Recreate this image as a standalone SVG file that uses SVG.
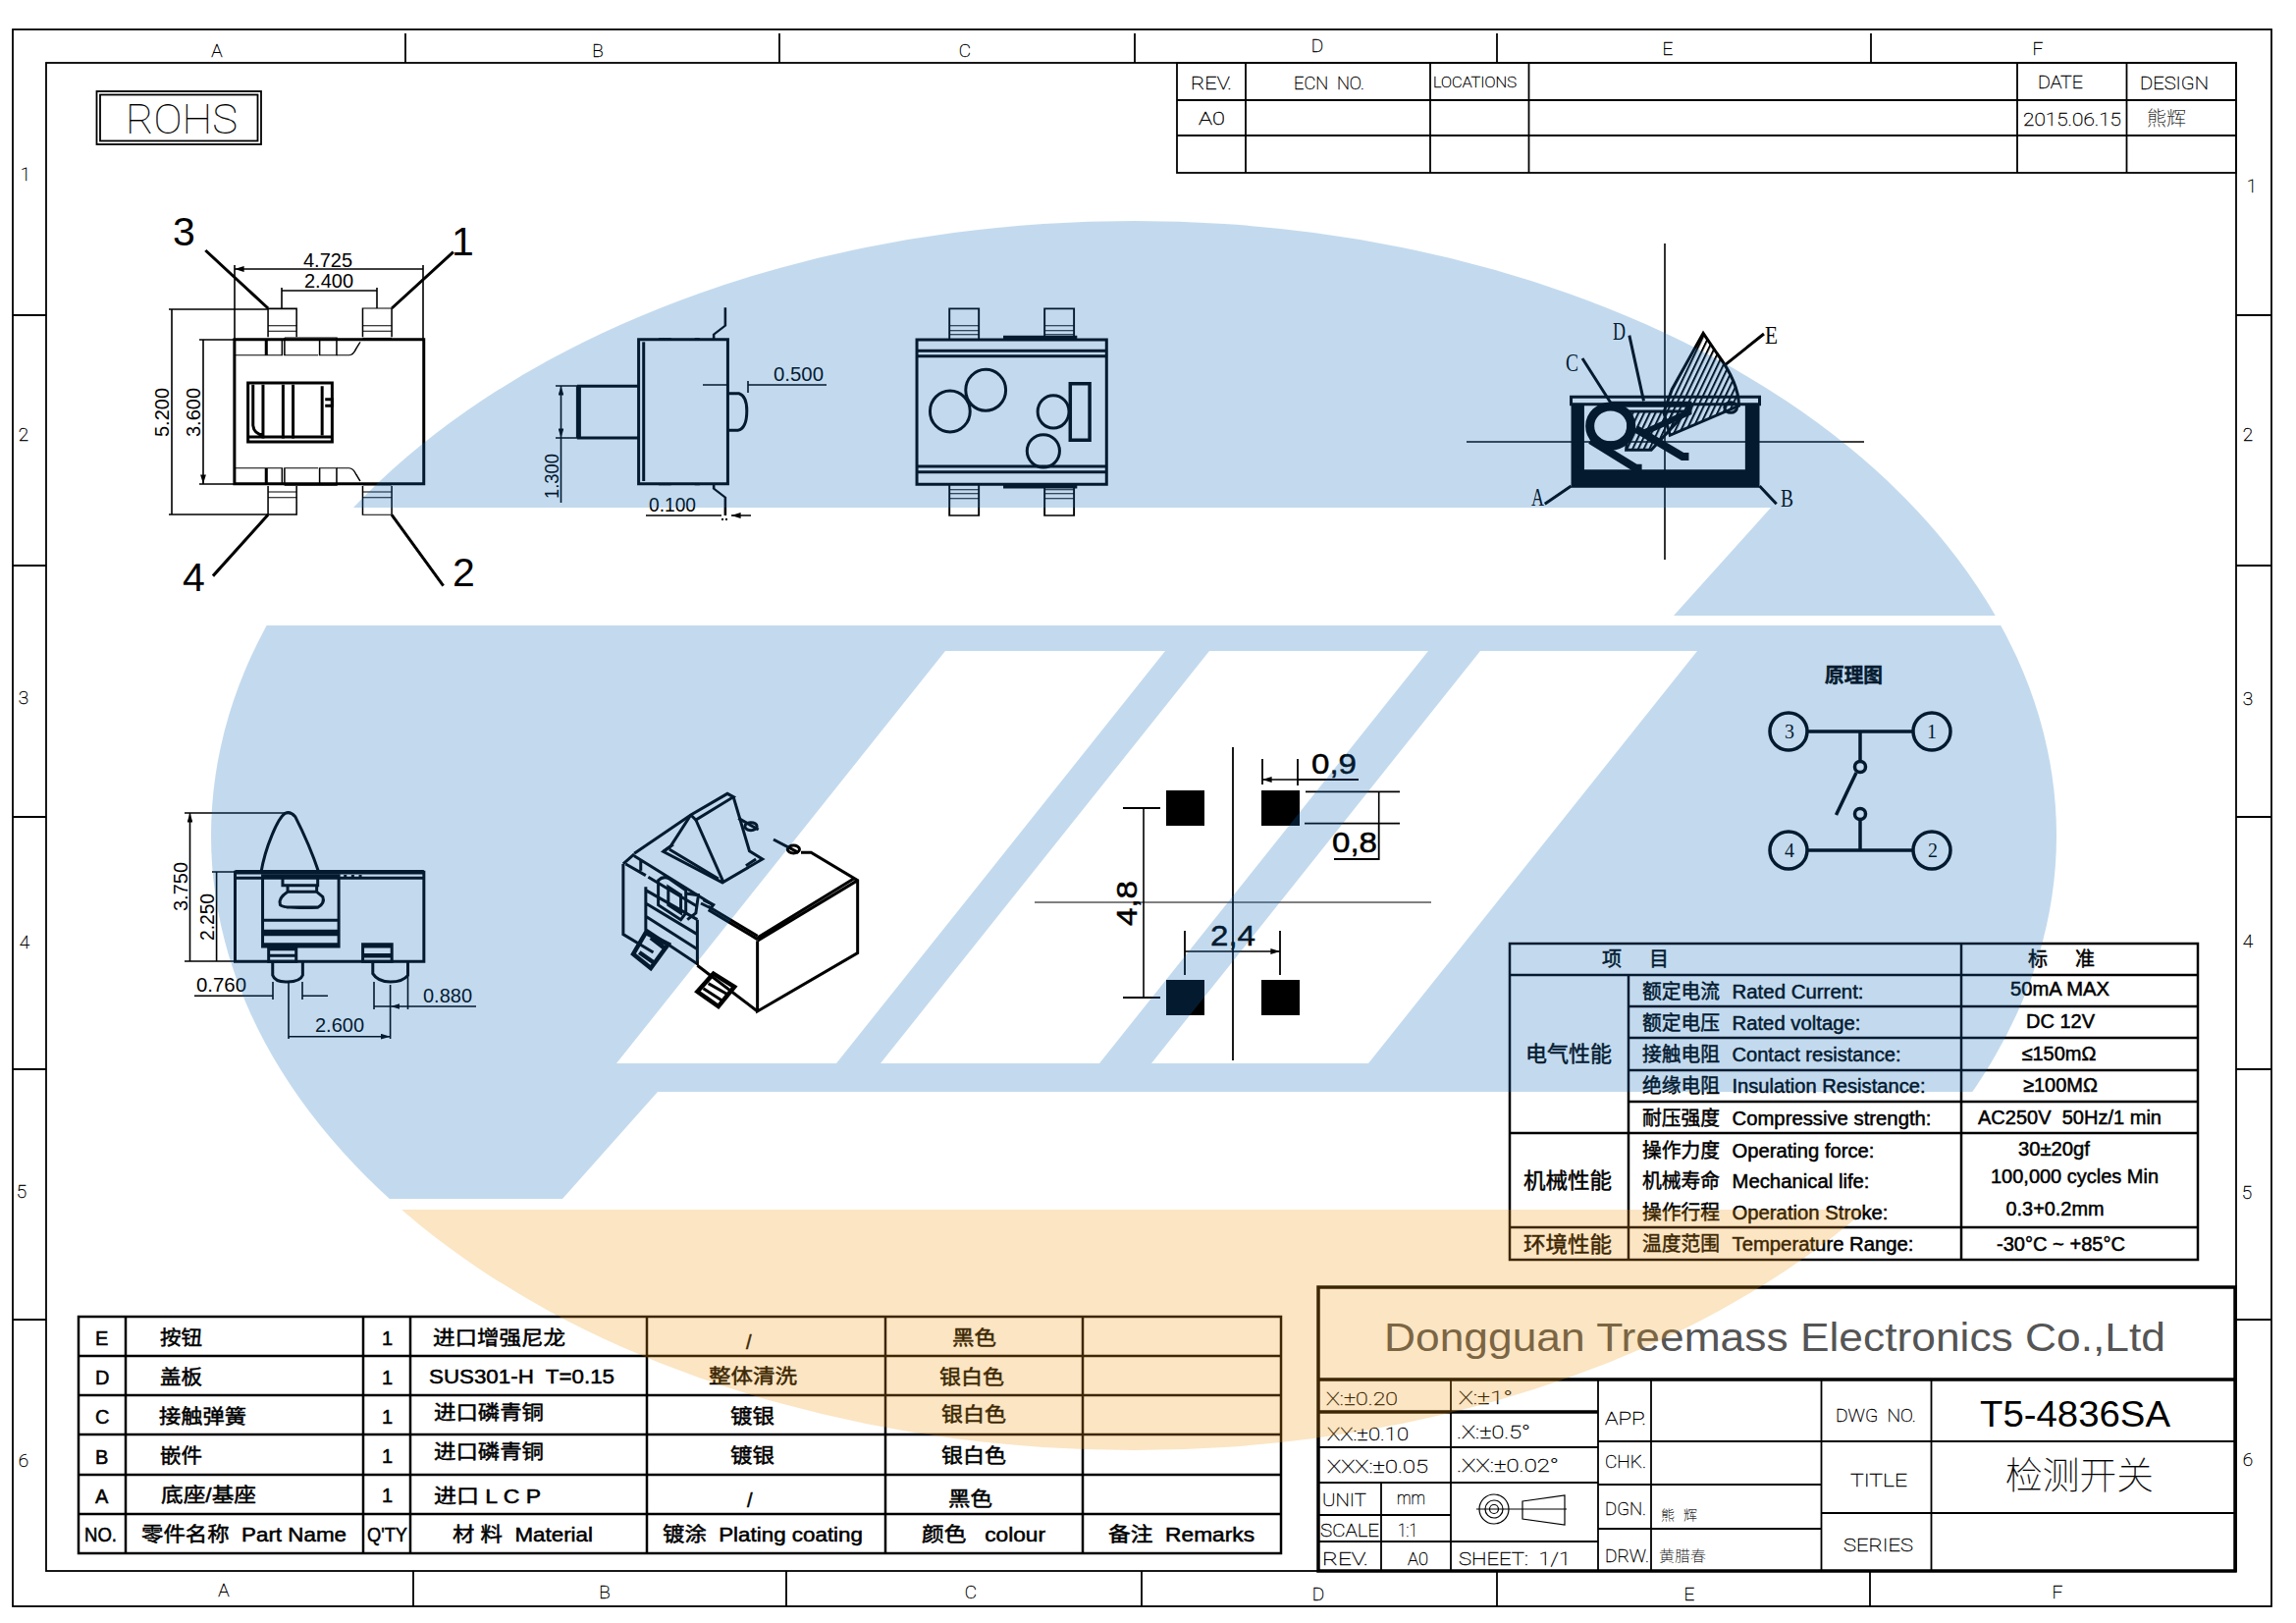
<svg xmlns="http://www.w3.org/2000/svg" width="2339" height="1653" viewBox="0 0 2339 1653">
<style>
text{white-space:pre;fill:#000}
.s{font-family:"Liberation Sans","Noto Sans CJK SC",sans-serif;stroke:#000;stroke-width:.5}
.f20{font-size:20px}
.c{font-family:"Roboto","Liberation Sans","Noto Sans CJK SC",sans-serif;font-weight:100;font-size:19px;fill:#000;stroke:#000;stroke-width:.35}
.d{font-family:"Liberation Sans",sans-serif;font-size:20px}
.b{font-family:"Liberation Sans",sans-serif;font-size:30px;stroke:#000;stroke-width:.5}
.n{font-family:"Liberation Sans",sans-serif;font-size:41px}
.lab{font-family:"Liberation Serif","Noto Sans CJK SC",serif;font-size:26px}
.L{fill:none;stroke:#000;stroke-width:1.2}
.M{fill:none;stroke:#000;stroke-width:1.8}
.T{fill:none;stroke:#000;stroke-width:3.5}
.dim{fill:none;stroke:#000;stroke-width:1.6}
.da{fill:none;stroke:#000;stroke-width:1.6;marker-start:url(#ar);marker-end:url(#ar)}
.de{fill:none;stroke:#000;stroke-width:1.6;marker-end:url(#ar)}
.v{fill:none;stroke:#000;stroke-width:3}
.v *{vector-effect:non-scaling-stroke}
.th{stroke-width:4.5}
.k{fill:#000;stroke:none}
</style>
<defs>
<marker id="ar" viewBox="0 0 10 6" refX="10" refY="3" markerWidth="6" markerHeight="3.6" orient="auto-start-reverse"><path d="M0 0L10 3L0 6Z" fill="#000"/></marker>
<pattern id="hatch" patternUnits="userSpaceOnUse" width="9" height="20" patternTransform="skewX(-14)"><rect width="3.500" height="20" fill="#000"/></pattern>
<clipPath id="oval"><ellipse cx="1155" cy="851" rx="940" ry="626"/></clipPath>
<g id="strip">
<path d="M233 497H611" class="th"/>
<path d="M233 545H295V497M298 497V545H328V497M333 492H437V545H403V497M333 492V545H400" />
<path d="M437 545H462Q470 545 476 525L484 505" />
<path d="M300 490V402H357V490M300 455H357M300 472H357M300 404H357"/>
<path d="M489 490V402H547V490M489 455H547M489 472H547"/>
<path d="M489 494H547" class="th"/>
</g>
<g id="lead3">
<path d="M1213 400V455L1190 482V497" style="stroke-width:5"/>
<path d="M1080 494H1105M1152 494H1162"/>
</g>
<g id="pin"><path d="M74 378V282H121V378M226 378V282H273V378M74 284H121M226 284H273M74 335H121M74 350H121M74 362H121M226 335H273M226 350H273M226 362H273"/></g>
</defs>
<rect id="paper" width="2339" height="1653" fill="#fff"/>

<g id="frame">
<rect x="13" y="30" width="2301" height="1606" class="M"/>
<rect x="47" y="64" width="2231" height="1536" class="M"/>
<path class="M" d="M413 34V64M794 34V64M1156 34V64M1525 34V64M1906 34V64M421 1600V1636M801 1600V1636M1163 1600V1636M1525 1600V1636M1905 1600V1636M13 321H47M13 576H47M13 832H47M13 1089H47M13 1344H47M2278 321H2314M2278 576H2314M2278 832H2314M2278 1089H2314M2278 1344H2314"/>
<g class="c">
<text x="221" y="58" text-anchor="middle">A</text><text x="609" y="58" text-anchor="middle">B</text><text x="983" y="58" text-anchor="middle">C</text><text x="1342" y="53" text-anchor="middle">D</text><text x="1699" y="56" text-anchor="middle">E</text><text x="2076" y="56" text-anchor="middle">F</text>
<text x="228" y="1626" text-anchor="middle">A</text><text x="616" y="1628" text-anchor="middle">B</text><text x="989" y="1628" text-anchor="middle">C</text><text x="1343" y="1630" text-anchor="middle">D</text><text x="1721" y="1630" text-anchor="middle">E</text><text x="2096" y="1628" text-anchor="middle">F</text>
<text x="26" y="184" text-anchor="middle">1</text><text x="24" y="449" text-anchor="middle">2</text><text x="24" y="717" text-anchor="middle">3</text><text x="25" y="966" text-anchor="middle">4</text><text x="22" y="1220" text-anchor="middle">5</text><text x="24" y="1494" text-anchor="middle">6</text>
<text x="2294" y="196" text-anchor="middle">1</text><text x="2290" y="449" text-anchor="middle">2</text><text x="2290" y="718" text-anchor="middle">3</text><text x="2290" y="965" text-anchor="middle">4</text><text x="2289" y="1221" text-anchor="middle">5</text><text x="2290" y="1493" text-anchor="middle">6</text>
</g>
</g>

<g id="rohs">
<rect x="98.500" y="93" width="167.500" height="54" class="M"/>
<rect x="102" y="96.500" width="160.500" height="47" class="M"/>
<text class="c" style="font-size:42px;stroke-width:.1" x="128" y="136" textLength="114" lengthAdjust="spacingAndGlyphs">ROHS</text>
</g>

<g id="revision-table">
<rect x="1199" y="64" width="1079" height="112" class="M"/>
<path class="M" d="M1199 102H2278M1199 138H2278M1269 64V176M1457 64V176M1557.500 64V176M2055 64V176M2166.500 64V176"/>
<g class="c">
<text x="1213" y="91" textLength="42" lengthAdjust="spacingAndGlyphs">REV.</text>
<text x="1318" y="91" textLength="72" lengthAdjust="spacingAndGlyphs">ECN  NO.</text>
<text x="1460" y="89" textLength="85" lengthAdjust="spacingAndGlyphs" style="font-size:15px">LOCATIONS</text>
<text x="2076" y="90" textLength="46" lengthAdjust="spacingAndGlyphs">DATE</text>
<text x="2180" y="91" textLength="70" lengthAdjust="spacingAndGlyphs">DESIGN</text>
<text x="1221" y="127" textLength="27" lengthAdjust="spacingAndGlyphs">A0</text>
<text x="2061" y="128" textLength="100" lengthAdjust="spacingAndGlyphs">2015.06.15</text>
<text x="2187" y="128" style="font-size:20px;stroke-width:.1">熊辉</text>
</g>
</g>

<g id="view-top">
<g transform="translate(120 180) scale(.5102 .3333)" class="v">
<rect x="233" y="497" width="378" height="441"/>
<use href="#strip"/>
<use href="#strip" transform="translate(0 1435) scale(1 -1)"/>
<rect x="260" y="630" width="168" height="180"/>
<path d="M270 635V760Q272 785 290 790M290 635V800M330 635V800M350 635V800M260 795H428M408 640V790M414 680H428V700H414"/>
<path d="M300 402L175 225M547 402L670 230M300 1033L190 1220M547 1033L650 1250"/>
</g>
<text class="n" x="176" y="250">3</text><text class="n" x="460" y="260">1</text><text class="n" x="186" y="602">4</text><text class="n" x="461" y="597">2</text>
<path class="da" d="M239 274H431M287 296H384M175 315V524M207 346V493"/>
<path class="dim" d="M239 270V346M431 270V346M287 293V314M384 293V314M172 315H273M172 524H273M203 346H238M203 493H238"/>
<text class="d" x="309" y="272" textLength="50" lengthAdjust="spacingAndGlyphs">4.725</text>
<text class="d" x="310" y="293" textLength="50" lengthAdjust="spacingAndGlyphs">2.400</text>
<text class="d" transform="translate(172 445) rotate(-90)" textLength="50" lengthAdjust="spacingAndGlyphs">5.200</text>
<text class="d" transform="translate(204 445) rotate(-90)" textLength="50" lengthAdjust="spacingAndGlyphs">3.600</text>
</g>

<g id="view-side">
<g transform="translate(120 180) scale(.5102 .3333)" class="v">
<rect x="1040" y="497" width="178" height="441"/>
<path d="M1050 505V930"/>
<path d="M1040 640H920V798H1040"/>
<path d="M920 640V798" style="stroke-width:5"/>
<path d="M1218 662H1240Q1256 670 1256 715Q1256 770 1238 775H1218"/>
<use href="#lead3"/>
<use href="#lead3" transform="translate(0 1435) scale(1 -1)"/>
</g>
<path class="de" d="M716 392H741M842 392H762M658 525H735M765 525H745"/>
<path class="da" d="M571.500 393V446"/>
<path class="dim" d="M762 388V400M571.500 446V512M566 393H588M566 446H588"/>
<path class="k" d="M735 528h2v2h-2zM739 528h2v2h-2z"/>
<text class="d" x="788" y="388" textLength="51" lengthAdjust="spacingAndGlyphs">0.500</text>
<text class="d" x="661" y="521" textLength="48" lengthAdjust="spacingAndGlyphs">0.100</text>
<text class="d" transform="translate(569 508) rotate(-90)" textLength="46" lengthAdjust="spacingAndGlyphs">1.300</text>
</g>

<g id="view-bottom">
<g transform="translate(920 220) scale(.6378 .3333)" class="v">
<rect x="22" y="378" width="303" height="442"/>
<path d="M22 412H325M22 428H325M22 765H325M22 782H325"/>
<path class="th" d="M160 372H278M160 826H278"/>
<use href="#pin"/>
<use href="#pin" transform="translate(0 1198) scale(1 -1)"/>
<ellipse cx="75" cy="597" rx="32" ry="63"/>
<ellipse cx="132" cy="532" rx="32" ry="63"/>
<ellipse cx="240" cy="598" rx="25" ry="50"/>
<ellipse cx="224" cy="718" rx="26" ry="50"/>
<rect x="267" y="512" width="31" height="173" style="stroke-width:3.500"/>
</g>
</g>

<g id="view-section">
<path class="dim" d="M1696 248V570M1494 450H1899"/>
<g transform="translate(920 220) scale(.6378 .3333)" class="v">
<path class="k" d="M1067 775H1368V830H1067ZM1067 575H1088V775H1067ZM1345 575H1368V775H1345Z"/>
<rect x="1067" y="553" width="301" height="22"/>
<path d="M1278 358L1300 420Q1335 510 1335 580L1225 670L1215 600L1228 530Z" fill="url(#hatch)"/>
<path d="M1160 597H1252L1195 715H1155Z" fill="url(#hatch)"/>
<path d="M1130 575H1255V600L1185 660" style="stroke-width:6"/>
<ellipse cx="1130" cy="642" rx="33" ry="60" style="stroke-width:9"/>
<path d="M1098 685L1170 770H1180" style="stroke-width:8"/>
<path d="M1170 650L1245 735H1255" style="stroke-width:8"/>
<ellipse cx="1322" cy="585" rx="10" ry="16"/>
<path d="M1025 880L1067 825M1395 880L1368 825M1085 435L1130 570M1160 365L1183 565M1375 360L1313 455"/>
</g>
<text class="lab" x="1560" y="515" textLength="13" lengthAdjust="spacingAndGlyphs">A</text>
<text class="lab" x="1814" y="516" textLength="13" lengthAdjust="spacingAndGlyphs">B</text>
<text class="lab" x="1595" y="378" textLength="13" lengthAdjust="spacingAndGlyphs">C</text>
<text class="lab" x="1643" y="346" textLength="13" lengthAdjust="spacingAndGlyphs">D</text>
<text class="lab" x="1798" y="350" textLength="13" lengthAdjust="spacingAndGlyphs">E</text>
</g>

<g id="view-front">
<g transform="translate(140 780) scale(.5102 .3333)" class="v">
<rect x="195" y="325" width="377" height="273"/>
<path d="M195 343H572"/>
<path d="M195 325H572" class="th"/>
<path d="M247 325C255 250 280 160 295 145Q305 138 315 155C330 200 350 270 362 325"/>
<rect x="250" y="335" width="152" height="217"/>
<path d="M290 335V365H360V335M300 365V385Q280 405 285 425Q290 436 360 433Q375 420 370 400L358 385V365M300 385H358M298 432H360M250 472H402M250 545H402"/>
<path class="k" d="M250 500H402V520H250Z"/>
<path d="M415 333V340M430 333V340M445 333V340"/>
<rect x="262" y="555" width="55" height="43"/>
<path d="M262 560H317M262 580H317"/>
<rect x="450" y="545" width="58" height="53"/>
<path d="M450 550H508M450 580H508" class="th"/>
<path d="M270 600V640Q275 662 300 660Q325 660 330 640V600"/>
<path d="M470 600V635Q480 660 505 660Q530 660 540 640V600"/>
</g>
<path class="da" d="M193.500 828V979M220.600 888V979M294 1055.700H397.600"/>
<path class="de" d="M198 1014.300H278M334 1014.300H308M381 1025H397M415.500 1025H397.600"/>
<path class="dim" d="M188 828H290M188 979H239M216 888H239M278 1000V1018M308 1000V1018M381 1000V1028M397.600 1003V1058M415.500 993V1028M415.500 1025H485M294 1001V1058"/>
<text class="d" x="200" y="1010" textLength="51" lengthAdjust="spacingAndGlyphs">0.760</text>
<text class="d" x="431" y="1021" textLength="50" lengthAdjust="spacingAndGlyphs">0.880</text>
<text class="d" x="321" y="1050.700" textLength="50" lengthAdjust="spacingAndGlyphs">2.600</text>
<text class="d" transform="translate(191 928) rotate(-90)" textLength="50" lengthAdjust="spacingAndGlyphs">3.750</text>
<text class="d" transform="translate(217.500 958) rotate(-90)" textLength="48" lengthAdjust="spacingAndGlyphs">2.250</text>
</g>

<g id="view-iso">
<g transform="translate(140 780) scale(.5102 .3333)" class="v">
<path d="M1238 535V750L1438 572V350L1345 265H1325"/>
<path d="M1238 535L1438 350M1238 525L1430 345M1238 530L1140 440"/>
<path d="M1238 520L1140 430"/>
<path d="M1238 750L1118 610"/>
<path d="M992 268L1105 150L1178 85L1190 95L1115 165L1105 150"/>
<path d="M1115 165L1170 355L1248 285L1222 260L1190 95M1105 150L1065 245L1050 262L1170 358"/>
<path d="M1062 255L1160 345M1050 262L1070 240M1235 285L1215 305"/>
<path d="M1200 160L1240 195M1270 225L1320 265"/>
<ellipse cx="1225" cy="185" rx="12" ry="12"/>
<ellipse cx="1310" cy="255" rx="12" ry="12"/>
<path d="M970 300V515L1030 570M970 300L992 270M992 275L1150 425M975 300L1015 335M1005 290L1005 320M1015 370V500L1118 605V470M1020 340L1118 430M1015 380L1118 470M1015 420L1118 515M1015 460L1118 560"/>
<path d="M1040 350Q1050 335 1062 345L1095 380V450L1085 470L1040 425ZM1060 370L1085 395V450L1060 425ZM1095 390L1120 395L1115 450L1098 470"/>
<path class="th" d="M1015 510L1060 545L1025 618L990 575ZM1002 570L1030 600M1025 525L1055 560"/>
<path class="th" d="M1118 690L1150 635L1192 675L1160 735Z"/>
<path d="M1130 680L1170 720M1140 665L1180 700"/>
<path d="M1130 410L1150 425L1145 435L1125 420"/>
</g>
</g>

<g id="footprint">
<path class="M" d="M1256 761V1080"/>
<path class="L" d="M1054 919H1458"/>
<path class="k" d="M1188 805H1227V841H1188ZM1285 805H1324V841H1285ZM1188 998H1227V1034H1188ZM1285 998H1324V1034H1285Z"/>
<path class="da" d="M1286 794H1322M1404.700 806V838.700M1165 823V1016M1207 969H1304"/>
<path class="M" d="M1286 773V799M1322 773V800M1322 794H1384M1330 806.300H1426M1329 838.700H1426M1404.700 838.700V875H1359M1144 823H1182M1144 1016H1182M1207 948V993M1304 948V993"/>
<text class="b" x="1336" y="788" textLength="46" lengthAdjust="spacingAndGlyphs">0,9</text>
<text class="b" x="1357" y="868" textLength="46" lengthAdjust="spacingAndGlyphs">0,8</text>
<text class="b" x="1233" y="963" textLength="46" lengthAdjust="spacingAndGlyphs">2,4</text>
<text class="b" transform="translate(1158 943) rotate(-90)" textLength="46" lengthAdjust="spacingAndGlyphs">4,8</text>
</g>

<g id="schematic">
<text class="s" style="font-size:20px;font-weight:700" x="1859" y="695" textLength="59" lengthAdjust="spacingAndGlyphs">原理图</text>
<g class="T">
<circle cx="1822" cy="745" r="19"/><circle cx="1968" cy="745" r="19"/><circle cx="1822" cy="866" r="19"/><circle cx="1968" cy="866" r="19"/>
<path d="M1841 745H1949M1841 866H1949M1895 745V775M1895 835V866M1891 787L1870.500 830"/>
<circle cx="1895" cy="781" r="5.500"/><circle cx="1895" cy="829" r="5.500"/>
</g>
<g class="lab" style="font-size:20px">
<text x="1823" y="752" text-anchor="middle">3</text><text x="1968" y="752" text-anchor="middle">1</text><text x="1823" y="873" text-anchor="middle">4</text><text x="1969" y="873" text-anchor="middle">2</text>
</g>
</g>

<g id="spec-table">
<rect x="1538" y="961" width="701" height="322" class="M" style="stroke-width:2.500"/>
<path class="M" style="stroke-width:2.500" d="M1538 993H2239M1659 1025H2239M1659 1057H2239M1659 1090H2239M1659 1122H2239M1538 1154H2239M1538 1250H2239M1659 993V1283M1998 961V1283"/>
<g class="s f20">
<text x="1632" y="984">项</text><text x="1680" y="984">目</text><text x="2066" y="984">标</text><text x="2114" y="984">准</text>
<text x="1554" y="1081" style="font-size:22px" textLength="88" lengthAdjust="spacingAndGlyphs">电气性能</text>
<text x="1552" y="1210" style="font-size:22px" textLength="90" lengthAdjust="spacingAndGlyphs">机械性能</text>
<text x="1552" y="1275" style="font-size:22px" textLength="90" lengthAdjust="spacingAndGlyphs">环境性能</text>
<text x="1673" y="1017" textLength="79" lengthAdjust="spacingAndGlyphs">额定电流</text><text x="1764.500" y="1017" textLength="134" lengthAdjust="spacingAndGlyphs">Rated Current:</text>
<text x="1673" y="1049" textLength="79" lengthAdjust="spacingAndGlyphs">额定电压</text><text x="1764.500" y="1049" textLength="131" lengthAdjust="spacingAndGlyphs">Rated voltage:</text>
<text x="1673" y="1081" textLength="79" lengthAdjust="spacingAndGlyphs">接触电阻</text><text x="1764.500" y="1081" textLength="172" lengthAdjust="spacingAndGlyphs">Contact resistance:</text>
<text x="1673" y="1113" textLength="79" lengthAdjust="spacingAndGlyphs">绝缘电阻</text><text x="1764.500" y="1113" textLength="197" lengthAdjust="spacingAndGlyphs">Insulation Resistance:</text>
<text x="1673" y="1146" textLength="79" lengthAdjust="spacingAndGlyphs">耐压强度</text><text x="1764.500" y="1146" textLength="203" lengthAdjust="spacingAndGlyphs">Compressive strength:</text>
<text x="1673" y="1179" textLength="79" lengthAdjust="spacingAndGlyphs">操作力度</text><text x="1764.500" y="1179" textLength="145" lengthAdjust="spacingAndGlyphs">Operating force:</text>
<text x="1673" y="1210" textLength="79" lengthAdjust="spacingAndGlyphs">机械寿命</text><text x="1764.500" y="1210" textLength="140" lengthAdjust="spacingAndGlyphs">Mechanical life:</text>
<text x="1673" y="1242" textLength="79" lengthAdjust="spacingAndGlyphs">操作行程</text><text x="1764.500" y="1242" textLength="159" lengthAdjust="spacingAndGlyphs">Operation Stroke:</text>
<text x="1673" y="1274" textLength="79" lengthAdjust="spacingAndGlyphs">温度范围</text><text x="1764.500" y="1274" textLength="185" lengthAdjust="spacingAndGlyphs">Temperature Range:</text>
<text x="2048" y="1014" textLength="101" lengthAdjust="spacingAndGlyphs">50mA MAX</text>
<text x="2064" y="1047" textLength="70" lengthAdjust="spacingAndGlyphs">DC 12V</text>
<text x="2059.500" y="1080" textLength="76" lengthAdjust="spacingAndGlyphs">≤150mΩ</text>
<text x="2061" y="1112" textLength="76" lengthAdjust="spacingAndGlyphs">≥100MΩ</text>
<text x="2015" y="1145" textLength="187" lengthAdjust="spacingAndGlyphs">AC250V  50Hz/1 min</text>
<text x="2056" y="1177" textLength="73" lengthAdjust="spacingAndGlyphs">30±20gf</text>
<text x="2028" y="1205" textLength="171" lengthAdjust="spacingAndGlyphs">100,000 cycles Min</text>
<text x="2043.500" y="1238" textLength="100" lengthAdjust="spacingAndGlyphs">0.3+0.2mm</text>
<text x="2034" y="1274" textLength="131" lengthAdjust="spacingAndGlyphs">-30°C ~ +85°C</text>
</g>
</g>

<g id="bom-table">
<rect x="80" y="1341" width="1225" height="241" class="M" style="stroke-width:2.500"/>
<path class="M" style="stroke-width:2.500" d="M80 1381H1305M80 1421H1305M80 1461H1305M80 1502H1305M80 1542H1305M128 1341V1582M370 1341V1582M418 1341V1582M659 1341V1582M902 1341V1582M1103 1341V1582"/>
<g class="s f20">
<text x="97" y="1370">E</text><text x="97" y="1410">D</text><text x="97" y="1450">C</text><text x="97" y="1491">B</text><text x="97" y="1531">A</text>
<text x="163" y="1370" textLength="43" lengthAdjust="spacingAndGlyphs">按钮</text>
<text x="163" y="1410" textLength="43" lengthAdjust="spacingAndGlyphs">盖板</text>
<text x="162" y="1450" textLength="89" lengthAdjust="spacingAndGlyphs">接触弹簧</text>
<text x="163" y="1490" textLength="43" lengthAdjust="spacingAndGlyphs">嵌件</text>
<text x="164" y="1530" textLength="97" lengthAdjust="spacingAndGlyphs">底座/基座</text>
<text x="389" y="1370">1</text><text x="389" y="1410">1</text><text x="389" y="1450">1</text><text x="389" y="1490">1</text><text x="389" y="1530">1</text>
<text x="441" y="1370" textLength="135" lengthAdjust="spacingAndGlyphs">进口增强尼龙</text>
<text x="437" y="1409" textLength="189" lengthAdjust="spacingAndGlyphs">SUS301-H  T=0.15</text>
<text x="442" y="1446" textLength="112" lengthAdjust="spacingAndGlyphs">进口磷青铜</text>
<text x="442" y="1486" textLength="112" lengthAdjust="spacingAndGlyphs">进口磷青铜</text>
<text x="442" y="1531" textLength="109" lengthAdjust="spacingAndGlyphs">进口 L C P</text>
<text x="760" y="1374">/</text><text x="761" y="1535">/</text>
<text x="722" y="1409" textLength="90" lengthAdjust="spacingAndGlyphs">整体清洗</text>
<text x="744" y="1450" textLength="45" lengthAdjust="spacingAndGlyphs">镀银</text>
<text x="744" y="1490" textLength="45" lengthAdjust="spacingAndGlyphs">镀银</text>
<text x="970" y="1370" textLength="45" lengthAdjust="spacingAndGlyphs">黑色</text>
<text x="957" y="1410" textLength="66" lengthAdjust="spacingAndGlyphs">银白色</text>
<text x="959" y="1448" textLength="66" lengthAdjust="spacingAndGlyphs">银白色</text>
<text x="959" y="1490" textLength="66" lengthAdjust="spacingAndGlyphs">银白色</text>
<text x="966" y="1534" textLength="45" lengthAdjust="spacingAndGlyphs">黑色</text>
<text x="86" y="1570" textLength="33" lengthAdjust="spacingAndGlyphs">NO.</text>
<text x="144" y="1570" textLength="209" lengthAdjust="spacingAndGlyphs">零件名称  Part Name</text>
<text x="374" y="1570" textLength="41" lengthAdjust="spacingAndGlyphs">Q'TY</text>
<text x="461" y="1570" textLength="143" lengthAdjust="spacingAndGlyphs">材 料  Material</text>
<text x="675" y="1570" textLength="204" lengthAdjust="spacingAndGlyphs">镀涂  Plating coating</text>
<text x="939" y="1570" textLength="126" lengthAdjust="spacingAndGlyphs">颜色   colour</text>
<text x="1129" y="1570" textLength="149" lengthAdjust="spacingAndGlyphs">备注  Remarks</text>
</g>
</g>

<g id="title-block">
<rect x="1343" y="1311" width="934" height="289" class="T"/>
<path class="T" d="M1343 1405H2277M1343 1438H1628"/>
<path class="M" d="M1628 1405V1600M1478 1405V1600M1407 1510V1600M1682 1405V1600M1855.500 1405V1600M1967.500 1405V1600M1343 1474H1628M1343 1510H1628M1343 1543H1478M1343 1570H1628M1628 1468H2277M1628 1512H1855.500M1628 1557H1855.500M1855.500 1541H2277"/>
<text x="1410" y="1376" textLength="796" lengthAdjust="spacingAndGlyphs" style="font-family:'Liberation Sans',sans-serif;font-size:41px;fill:#555">Dongguan Treemass Electronics Co.,Ltd</text>
<g class="c">
<text x="1351" y="1431" textLength="73" lengthAdjust="spacingAndGlyphs">X:±0.20</text>
<text x="1486" y="1430" textLength="55" lengthAdjust="spacingAndGlyphs">X:±1°</text>
<text x="1352" y="1467" textLength="83" lengthAdjust="spacingAndGlyphs">XX:±0.10</text>
<text x="1484" y="1465" textLength="75" lengthAdjust="spacingAndGlyphs">.X:±0.5°</text>
<text x="1352" y="1500" textLength="103" lengthAdjust="spacingAndGlyphs">XXX:±0.05</text>
<text x="1484" y="1499" textLength="104" lengthAdjust="spacingAndGlyphs">.XX:±0.02°</text>
<text x="1347" y="1534" textLength="45" lengthAdjust="spacingAndGlyphs">UNIT</text>
<text x="1423" y="1532" textLength="29" lengthAdjust="spacingAndGlyphs">mm</text>
<text x="1345" y="1565" textLength="60" lengthAdjust="spacingAndGlyphs">SCALE</text>
<text x="1424" y="1565" textLength="20" lengthAdjust="spacingAndGlyphs">1:1</text>
<text x="1347" y="1594" textLength="47" lengthAdjust="spacingAndGlyphs">REV.</text>
<text x="1434" y="1594" textLength="21" lengthAdjust="spacingAndGlyphs">A0</text>
<text x="1486" y="1594" textLength="114" lengthAdjust="spacingAndGlyphs">SHEET:  1/1</text>
<text x="1635" y="1451" textLength="42" lengthAdjust="spacingAndGlyphs">APP.</text>
<text x="1635" y="1495" textLength="42" lengthAdjust="spacingAndGlyphs">CHK.</text>
<text x="1635" y="1543" textLength="42" lengthAdjust="spacingAndGlyphs">DGN.</text>
<text x="1635" y="1591" textLength="45" lengthAdjust="spacingAndGlyphs">DRW.</text>
<text x="1692" y="1548" style="font-size:14px;stroke-width:.1" textLength="37" lengthAdjust="spacing">熊辉</text>
<text x="1690" y="1590" style="font-size:15px;stroke-width:.1" textLength="48" lengthAdjust="spacingAndGlyphs">黄腊春</text>
<text x="1870" y="1448" textLength="82" lengthAdjust="spacingAndGlyphs">DWG  NO.</text>
<text x="1885" y="1514" textLength="58" lengthAdjust="spacingAndGlyphs">TITLE</text>
<text x="1878" y="1580" textLength="71" lengthAdjust="spacingAndGlyphs">SERIES</text>
<text x="2043" y="1516" style="font-size:38px;stroke-width:.2" textLength="151" lengthAdjust="spacingAndGlyphs">检测开关</text>
</g>
<text x="2017" y="1453" textLength="194" lengthAdjust="spacingAndGlyphs" style="font-family:'Liberation Sans',sans-serif;font-size:37px">T5-4836SA</text>
<g class="L">
<circle cx="1522" cy="1537" r="15"/><circle cx="1522" cy="1537" r="9"/><circle cx="1522" cy="1537" r="4.500"/>
<path d="M1504 1537H1596M1551 1529L1594 1523V1553L1551 1547Z"/>
</g>
</g>

<g id="watermark" clip-path="url(#oval)" pointer-events="none">
<path fill="#0F6BBB" fill-opacity=".25" d="M0 200H2339V517H0ZM1804 517L2339 517V627H1705ZM0 1112H670L573 1221H0Z"/>
<path fill="#0F6BBB" fill-opacity=".25" fill-rule="evenodd" d="M0 637H2339V1112H0ZM963 663H1187L852 1083H628ZM1232 663H1455L1120 1083H897ZM1508 663H1729L1394 1083H1173Z"/>
<path fill="#EF970F" fill-opacity=".25" d="M0 1232H2339V1500H0Z"/>
</g>
</svg>
